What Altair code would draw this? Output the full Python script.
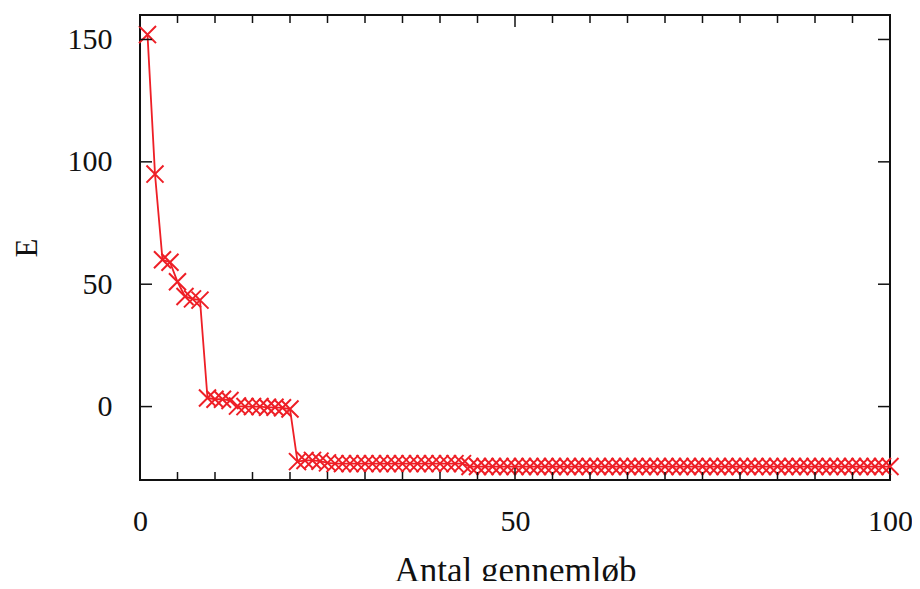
import altair as alt
import pandas as pd

# ---- data ----
iterations = list(range(1, 101))
energy = [
    152, 95, 60, 59, 51, 45, 44, 43.5, 3.5, 3,
    3, 2.5, 0.2, 0, 0, 0, -0.3, -0.3, -0.5, -1,
    -22.5, -22, -22, -22.3, -23, -23.3, -23.3, -23.3, -23.3, -23.3,
    -23.3, -23.3, -23.3, -23.3, -23.3, -23.3, -23.3, -23.3, -23.3, -23.3,
    -23.3, -23.3, -23.3, -24.5, -24.5, -24.5, -24.5, -24.5, -24.5, -24.5,
    -24.5, -24.5, -24.5, -24.5, -24.5, -24.5, -24.5, -24.5, -24.5, -24.5,
    -24.5, -24.5, -24.5, -24.5, -24.5, -24.5, -24.5, -24.5, -24.5, -24.5,
    -24.5, -24.5, -24.5, -24.5, -24.5, -24.5, -24.5, -24.5, -24.5, -24.5,
    -24.5, -24.5, -24.5, -24.5, -24.5, -24.5, -24.5, -24.5, -24.5, -24.5,
    -24.5, -24.5, -24.5, -24.5, -24.5, -24.5, -24.5, -24.5, -24.5, -24.5,
]
x_major_ticks = [0, 50, 100]
x_minor_ticks = [5, 10, 15, 20, 25, 30, 35, 40, 45, 55, 60, 65, 70, 75, 80, 85, 90, 95]
y_ticks = [0, 50, 100, 150]
x_title = "Antal gennemløb"
y_title = "E"

W, H = 750, 465
RED = "#ee1f26"
FONT = "Liberation Serif"

df = pd.DataFrame({"n": iterations, "E": energy})
xs = alt.Scale(domain=[0, 100], nice=False, zero=False)
ys = alt.Scale(domain=[-30, 160], nice=False, zero=False)

x_axis = alt.Axis(values=x_major_ticks, ticks=False, domain=False, grid=False,
                  labelPadding=26, labelFlush=False, labelOverlap=False,
                  titlePadding=17, titleFontSize=35, format="d")
y_axis = alt.Axis(values=y_ticks, ticks=False, domain=False, grid=False,
                  labelPadding=28, labelOverlap=False, titlePadding=24,
                  titleFontSize=31, format="d")

line = alt.Chart(df).mark_line(color=RED, strokeWidth=1.8).encode(
    x=alt.X("n:Q", scale=xs, axis=x_axis, title=x_title),
    y=alt.Y("E:Q", scale=ys, axis=y_axis, title=y_title),
)
points = alt.Chart(df).mark_point(
    shape="M-1,-1L1,1M-1,1L1,-1", size=290, filled=False, color=RED,
    strokeWidth=2, opacity=1,
).encode(
    x=alt.X("n:Q", scale=xs, axis=x_axis, title=x_title),
    y=alt.Y("E:Q", scale=ys, axis=y_axis, title=y_title),
)

tick_color = "#111111"
xmaj = pd.DataFrame({"t": x_major_ticks})
xmin = pd.DataFrame({"t": x_minor_ticks})
yt = pd.DataFrame({"t": y_ticks})

def xtick(data, y0, y1):
    return alt.Chart(data).mark_rule(color=tick_color, strokeWidth=1.5).encode(
        x=alt.X("t:Q", scale=xs, axis=x_axis, title=x_title),
        y=alt.value(y0), y2=alt.value(y1),
    )

def ytick(x0, x1):
    return alt.Chart(yt).mark_rule(color=tick_color, strokeWidth=1.5).encode(
        y=alt.Y("t:Q", scale=ys, axis=y_axis, title=y_title),
        x=alt.value(x0), x2=alt.value(x1),
    )

layers = [
    line, points,
    xtick(xmaj, H, H - 12), xtick(xmin, H, H - 8),
    xtick(xmaj, 0, 12), xtick(xmin, 0, 8),
    ytick(0, 12), ytick(W, W - 12),
]

chart = alt.layer(*layers).properties(
    width=W, height=H,
    autosize=alt.AutoSizeParams(type="none"),
    padding={"left": 132, "top": 7, "right": 22, "bottom": 101},
).configure_view(
    stroke="#111111", strokeWidth=2,
).configure_axis(
    labelFont=FONT, labelFontSize=30, labelColor="#111111",
    titleFont=FONT, titleFontWeight="normal", titleColor="#111111",
)

chart.save("out.html", embed_options={"renderer": "svg", "actions": False})
